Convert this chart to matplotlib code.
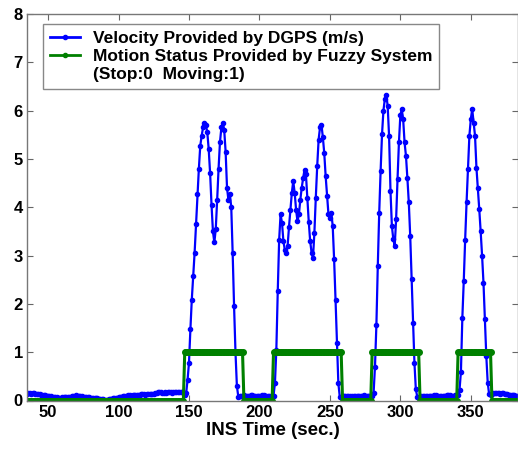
import numpy as np
import matplotlib
matplotlib.use("Agg")
import matplotlib.pyplot as plt
from matplotlib.lines import Line2D

plt.rcParams['font.family'] = ['Liberation Sans', 'DejaVu Sans']
plt.rcParams['font.weight'] = 'bold'

# DGPS velocity (m/s), one sample per second from t=35 to t=383
still_a = [0.14, 0.15, 0.15, 0.14, 0.15, 0.15, 0.14, 0.13, 0.14, 0.13,
           0.12, 0.11, 0.12, 0.11, 0.10, 0.10, 0.09, 0.09, 0.08, 0.08,
           0.07, 0.07, 0.06, 0.06, 0.06, 0.07, 0.07, 0.08, 0.08, 0.07,
           0.07, 0.08, 0.09, 0.10, 0.10, 0.11, 0.10, 0.10, 0.09, 0.09,
           0.08, 0.08, 0.07, 0.07, 0.07, 0.06, 0.06, 0.06, 0.05, 0.05,
           0.05, 0.04, 0.04, 0.03, 0.03, 0.02, 0.02, 0.02, 0.03, 0.03,
           0.04, 0.05, 0.05, 0.06, 0.06, 0.07, 0.08, 0.08, 0.09, 0.09,
           0.10, 0.10, 0.11, 0.11, 0.10, 0.11, 0.12, 0.12, 0.11, 0.12,
           0.12, 0.13, 0.13, 0.13, 0.12, 0.13, 0.14, 0.14, 0.13, 0.14,
           0.14, 0.15, 0.16, 0.17, 0.18, 0.17, 0.16, 0.16, 0.17, 0.16,
           0.17, 0.17, 0.17, 0.16, 0.17, 0.17, 0.18, 0.17, 0.17, 0.18,
           0.18, 0.17]
run_1 = [0.12, 0.15, 0.43, 0.78, 1.47, 2.09, 2.57, 3.06, 3.65, 4.27,
         4.79, 5.27, 5.48, 5.65, 5.75, 5.70, 5.55, 5.20, 4.70, 4.05,
         3.50, 3.27, 3.55, 4.15, 4.80, 5.35, 5.65, 5.75, 5.60, 5.15,
         4.40, 4.15, 4.28, 4.00, 3.05, 1.95, 1.00, 0.30, 0.08]
still_b = [0.09, 0.10, 0.10, 0.11, 0.10, 0.10, 0.09, 0.10, 0.11, 0.11,
           0.10, 0.10, 0.09, 0.09, 0.10, 0.10, 0.11, 0.11, 0.10, 0.10,
           0.09, 0.09, 0.10, 0.10]
run_2 = [0.10, 0.36, 1.05, 2.26, 3.33, 3.85, 3.68, 3.30, 3.12, 3.06,
         3.20, 3.60, 3.95, 4.30, 4.54, 4.30, 3.95, 3.71, 3.85, 4.15,
         4.40, 4.60, 4.78, 4.68, 4.20, 3.70, 3.30, 3.06, 2.95, 3.47,
         4.20, 4.85, 5.40, 5.65, 5.71, 5.45, 5.12, 4.64, 4.23, 3.85,
         3.78, 3.89, 3.61, 2.92, 2.09, 1.19, 0.36, 0.08]
still_c = [0.08, 0.09, 0.09, 0.10, 0.10, 0.09, 0.09, 0.08, 0.09, 0.10,
           0.10, 0.10, 0.09, 0.09, 0.10, 0.10, 0.11, 0.10, 0.10, 0.09,
           0.09, 0.10, 0.10]
run_3 = [0.15, 0.70, 1.56, 2.79, 3.88, 4.75, 5.51, 6.00, 6.24, 6.33,
         6.10, 5.48, 4.34, 3.61, 3.34, 3.20, 3.75, 4.58, 5.34, 5.90,
         6.03, 5.82, 5.34, 5.06, 4.60, 4.10, 3.41, 2.51, 1.61, 0.78,
         0.23, 0.08]
still_d = [0.08, 0.08, 0.09, 0.09, 0.10, 0.10, 0.10, 0.09, 0.09, 0.10,
           0.10, 0.11, 0.11, 0.10, 0.10, 0.10, 0.09, 0.09, 0.10, 0.10,
           0.11, 0.11, 0.11, 0.10, 0.10, 0.10, 0.11, 0.11, 0.12]
run_4 = [0.22, 0.60, 1.71, 2.47, 3.33, 4.10, 4.79, 5.48, 5.82, 6.03,
         5.75, 5.48, 4.82, 4.40, 3.96, 3.50, 3.00, 2.44, 1.68, 0.92,
         0.37, 0.13]
still_e = [0.12, 0.14, 0.15, 0.15, 0.16, 0.15, 0.15, 0.14, 0.15, 0.15,
           0.14, 0.13, 0.13, 0.12, 0.12, 0.12, 0.11, 0.11, 0.10, 0.10]

# fuzzy system "moving" intervals (sec.)
moving = [(147, 188), (210, 258), (280, 313), (341, 364)]

velocity = np.array(still_a + run_1 + still_b + run_2 + still_c + run_3
                    + still_d + run_4 + still_e)
t = np.arange(35, 35 + len(velocity))

status = np.zeros(len(t))
for a, b in moving:
    status[(t >= a) & (t <= b)] = 1

fig = plt.figure(figsize=(5.18, 4.5), dpi=100)
ax = fig.add_axes([0.052, 0.11, 0.948, 0.859])

l1, = ax.plot(t, velocity, color='#0000ff', lw=1.6, marker='.', ms=6)
l2, = ax.plot(t, status, color='#008000', lw=2.2, marker='.', ms=8)

ax.set_xlim(35, 383.5)
ax.set_ylim(0, 8)
ax.set_xticks([50, 100, 150, 200, 250, 300, 350])
ax.set_yticks(range(0, 9))
ax.tick_params(direction='in', length=4, labelsize=12, top=True, right=True,
               color='#666666', pad=3)
for s in ax.spines.values():
    s.set_color('#777777')
    s.set_linewidth(1.0)
ax.set_xlabel('INS Time (sec.)', fontsize=13.5, fontweight='bold', labelpad=2)

# legend: second label wraps, handle stays on its first line
blank = Line2D([], [], color='none')
h1 = Line2D([], [], color='#0000ff', lw=2, marker='.', ms=6)
h2 = Line2D([], [], color='#008000', lw=2, marker='.', ms=6)
leg = ax.legend([h1, h2, blank],
                ['Velocity Provided by DGPS (m/s)',
                 'Motion Status Provided by Fuzzy System',
                 '(Stop:0  Moving:1)'],
                loc='upper left', bbox_to_anchor=(0.033, 0.974), fontsize=12.5,
                numpoints=1, fancybox=False, framealpha=1, borderpad=0.4,
                handlelength=1.75, handletextpad=0.7, labelspacing=0.16,
                borderaxespad=0)
leg.get_frame().set_edgecolor('#888888')
leg.get_frame().set_linewidth(1.0)

fig.savefig('out.png', dpi=100)
